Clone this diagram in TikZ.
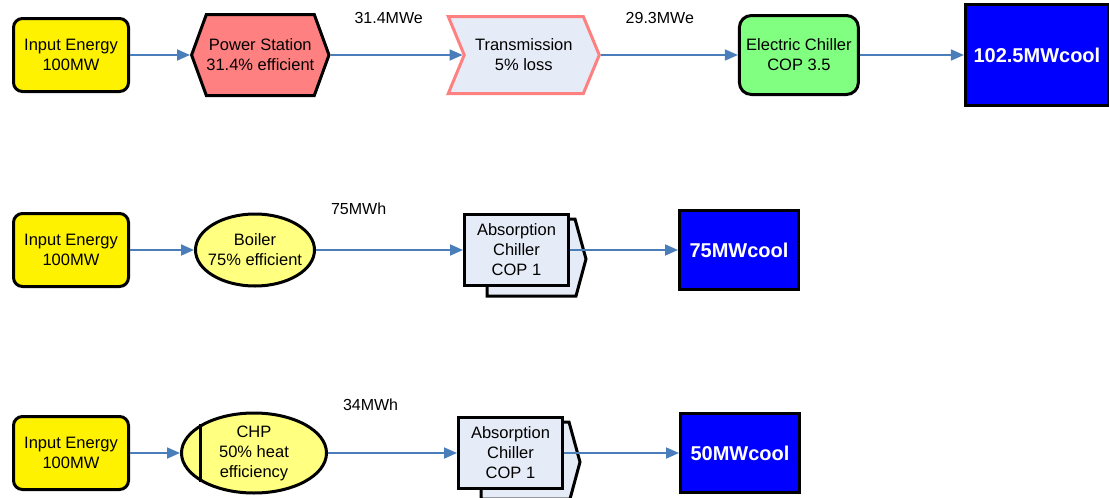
\documentclass[tikz,border=0pt]{standalone}
\usepackage{fontspec}
\setmainfont{Liberation Sans}
\usetikzlibrary{positioning,shapes.geometric,shapes.symbols,arrows.meta,backgrounds}
\definecolor{flow}{HTML}{4A7EBB}
\definecolor{palepink}{HTML}{FF8080}
\definecolor{paleyellow}{HTML}{FFFF80}
\definecolor{palegreen}{HTML}{80FF80}
\definecolor{paleblue}{HTML}{E6ECF7}
\definecolor{coolblue}{HTML}{0000FF}

\begin{document}
\begin{tikzpicture}[x=1pt,y=-1pt,node distance=60pt,>={Triangle[length=13pt,width=11pt]},font=\fontsize{16.5}{20}\selectfont]
  \tikzstyle{box}=[draw=black,line width=3pt,align=center,inner sep=0pt]
  \tikzstyle{source}=[box,fill=yellow,rounded corners=9pt,minimum width=115pt,minimum height=73pt]
  \tikzstyle{hexa}=[box,fill=palepink,signal,signal to=east and west,signal pointer angle=140,minimum width=121pt,minimum height=81pt]
  \tikzstyle{line}=[box,draw=palepink,fill=paleblue,signal,signal from=west,signal to=east,signal pointer angle=135,minimum width=151pt,minimum height=77pt]
  \tikzstyle{chiller}=[box,fill=palegreen,rounded corners=12pt,minimum width=119pt,minimum height=79pt]
  \tikzstyle{burner}=[box,fill=paleyellow,ellipse,inner xsep=-8pt,minimum width=119pt,minimum height=72pt]
  \tikzstyle{absorb}=[box,fill=paleblue,minimum width=104pt,minimum height=71pt]
  \tikzstyle{cool}=[box,fill=coolblue,text=white,font=\fontsize{20}{24}\selectfont\bfseries,minimum width=119pt,minimum height=79pt]
  \tikzstyle{flowline}=[->,draw=flow,line width=1.8pt]
  \tikzstyle{amount}=[font=\fontsize{16}{19}\selectfont]

  \useasboundingbox (0,0) rectangle (1109,498);

  \node[source] (in1) at (71,55) {Input Energy\\100MW};
  \node[hexa,right=60pt of in1] (ps) {Power Station\\31.4\% efficient};
  \node[line,right=132pt of ps] (tr) {Transmission\\5\% loss};
  \node[chiller,right=137pt of tr] (ec) {Electric Chiller\\COP 3.5};
  \node[cool,minimum width=143pt,minimum height=101pt,right=104pt of ec] (c1) {102.5MWcool};

  \draw[flowline] (in1) -- (ps);
  \draw[flowline] (ps) -- node[amount,above=27pt,pos=0.44] {31.4MWe} (tr);
  \draw[flowline] (tr) -- node[amount,above=27pt,pos=0.43] {29.3MWe} (ec);
  \draw[flowline] (ec) -- (c1);

  \node[source] (in2) at (71,250) {Input Energy\\100MW};
  \node[burner,right=64pt of in2] (boil) {Boiler\\75\% efficient};
  \node[absorb,right=147pt of boil] (ab2) {Absorption\\Chiller\\COP 1};
  \node[cool,right=108pt of ab2] (c2) {75MWcool};
  \begin{scope}[on background layer]
    \draw[box,fill=paleblue,line join=miter] ([shift={(24,6)}]ab2.north west) -- ([shift={(5,6)}]ab2.north east)
      -- ([shift={(16,9)}]ab2.east) -- ([shift={(6,9)}]ab2.south east) -- ([shift={(24,9)}]ab2.south west) -- cycle;
  \end{scope}

  \draw[flowline] (in2) -- (boil);
  \draw[flowline] (boil) -- node[amount,above=31pt,pos=0.29] {75MWh} (ab2);
  \draw[flowline] (ab2) -- (c2);

  \node[source] (in3) at (71,453) {Input Energy\\100MW};
  \node[burner,minimum width=145pt,minimum height=80pt,right=50pt of in3] (chp) {CHP\\50\% heat\\efficiency};
  \node[absorb,right=129pt of chp] (ab3) {Absorption\\Chiller\\COP 1};
  \node[cool,right=115pt of ab3] (c3) {50MWcool};
  \begin{scope}[on background layer]
    \draw[box,fill=paleblue,line join=miter] ([shift={(24,6)}]ab3.north west) -- ([shift={(5,6)}]ab3.north east)
      -- ([shift={(16,9)}]ab3.east) -- ([shift={(6,9)}]ab3.south east) -- ([shift={(24,9)}]ab3.south west) -- cycle;
  \end{scope}
  \draw[line width=3pt] (chp.152) -- (chp.208);

  \draw[flowline] (in3) -- (chp);
  \draw[flowline] (chp) -- node[amount,above=38pt,pos=0.33] {34MWh} (ab3);
  \draw[flowline] (ab3) -- (c3);
\end{tikzpicture}
\end{document}
